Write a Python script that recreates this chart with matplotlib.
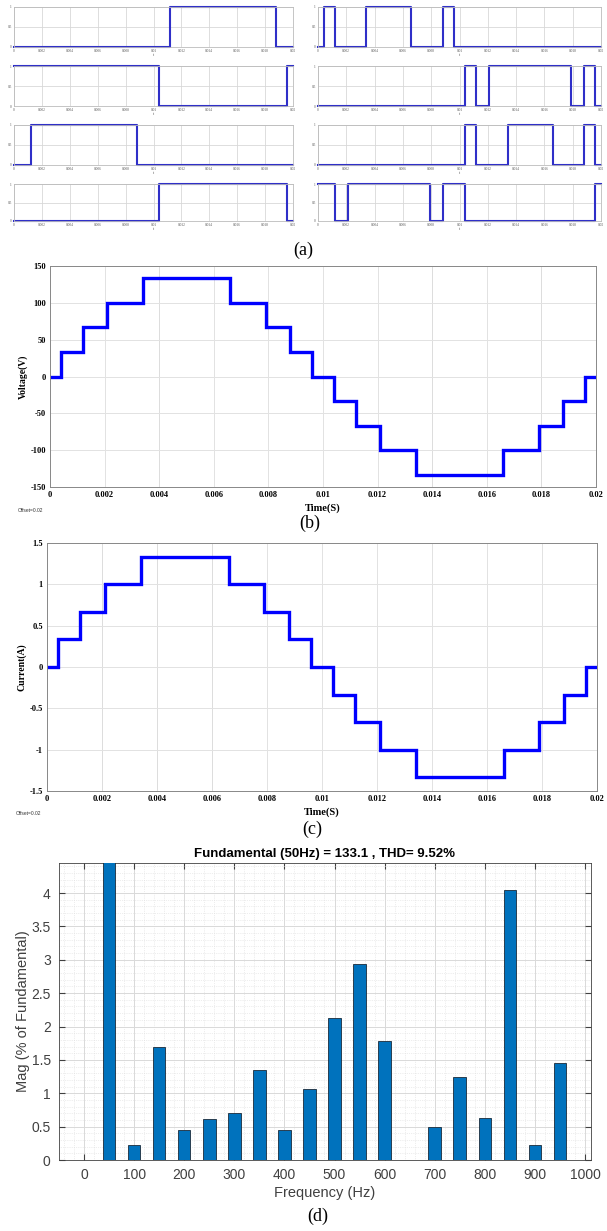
import numpy as np
import matplotlib.pyplot as plt

# %% DATA
# gate signals (a): switching instants and the level that holds after each one
s1_t = [0, 0.0112, 0.0188, 0.02]
s1_v = [0, 1, 0, 0]
s2_t = [0, 0.0104, 0.0196, 0.02]
s2_v = [1, 0, 1, 1]
s3_t = [0, 0.0012, 0.0088, 0.02]
s3_v = [0, 1, 0, 0]
s4_t = [0, 0.0104, 0.0196, 0.02]
s4_v = [0, 1, 0, 0]
s5_t = [0, 0.0004, 0.0012, 0.0034, 0.0066, 0.0088, 0.0096, 0.02]
s5_v = [0, 1, 0, 1, 0, 1, 0, 0]
s6_t = [0, 0.0104, 0.0112, 0.0121, 0.0179, 0.0188, 0.0196, 0.02]
s6_v = [0, 1, 0, 1, 0, 1, 0, 0]
s7_t = [0, 0.0104, 0.0112, 0.0134, 0.0166, 0.0188, 0.0196, 0.02]
s7_v = [0, 1, 0, 1, 0, 1, 0, 0]
s8_t = [0, 0.0012, 0.0021, 0.0079, 0.0088, 0.0104, 0.0196, 0.02]
s8_v = [1, 0, 1, 0, 1, 0, 1, 1]

# staircase output (b), (c)
step_t = [0, 0.0004, 0.0012, 0.0021, 0.0034, 0.0066, 0.0079, 0.0088, 0.0096,
          0.0104, 0.0112, 0.0121, 0.0134, 0.0166, 0.0179, 0.0188, 0.0196, 0.02]
voltage = [0, 33.3, 66.7, 100, 133.3, 100, 66.7, 33.3, 0,
           -33.3, -66.7, -100, -133.3, -100, -66.7, -33.3, 0, 0]
current = [0, 0.333, 0.667, 1.0, 1.333, 1.0, 0.667, 0.333, 0,
           -0.333, -0.667, -1.0, -1.333, -1.0, -0.667, -0.333, 0, 0]

# FFT spectrum (d)
freq = [0, 50, 100, 150, 200, 250, 300, 350, 400, 450, 500, 550, 600, 650,
        700, 750, 800, 850, 900, 950]
mag = [0, 100, 0.23, 1.69, 0.45, 0.61, 0.71, 1.35, 0.45, 1.06, 2.13, 2.93,
       1.78, 0, 0.49, 1.25, 0.63, 4.04, 0.22, 1.45]

t_ticks = [0, 0.002, 0.004, 0.006, 0.008, 0.01, 0.012, 0.014, 0.016, 0.018, 0.02]
t_labels = ['0', '0.002', '0.004', '0.006', '0.008', '0.01', '0.012', '0.014',
            '0.016', '0.018', '0.02']

W, H = 607, 1231
fig = plt.figure(figsize=(W / 100, H / 100), dpi=100)


def box(x0, y0, x1, y1):
    # pixel box -> figure fraction
    return [x0 / W, 1 - y1 / H, (x1 - x0) / W, (y1 - y0) / H]


serif = 'Liberation Serif'
sans = 'Liberation Sans'

# %% (a) GATE SIGNALS
rows = [(7, 47), (66, 106), (125, 165), (184, 221)]
left_sig = [(s1_t, s1_v), (s2_t, s2_v), (s3_t, s3_v), (s4_t, s4_v)]
right_sig = [(s5_t, s5_v), (s6_t, s6_v), (s7_t, s7_v), (s8_t, s8_v)]
for col, sigs, (x0, x1) in [(0, left_sig, (14, 293)), (1, right_sig, (318, 601))]:
    for (y0, y1), (tt, vv) in zip(rows, sigs):
        ax = fig.add_axes(box(x0, y0, x1, y1))
        ax.step(tt, vv, where='post', color='#2f2fc8', lw=1.5, clip_on=False)
        ax.set_xlim(0, 0.02)
        ax.set_ylim(0, 1)
        ax.set_xticks(t_ticks)
        ax.set_xticklabels(t_labels, fontsize=2.5, family=serif, color='#555555')
        ax.set_yticks([0, 0.5, 1])
        ax.set_yticklabels(['0', '0.5', '1'], fontsize=2.5, family=serif, color='#555555')
        ax.tick_params(length=0, pad=1.5)
        ax.grid(True, color='#d8d8d8', lw=0.6)
        for sp in ax.spines.values():
            sp.set_color('#bbbbbb')
            sp.set_linewidth(0.6)
        ax.set_xlabel('t', fontsize=3, family=serif, color='#555555', labelpad=0)

fig.text(303 / W, 1 - 250 / H, '(a)', ha='center', va='center', fontsize=13, family=serif)


# %% (b), (c) STAIRCASE
def stair_axes(rect, y, yticks, ylabels, ylabel, dark):
    ax = fig.add_axes(rect)
    ax.step(step_t, y, where='post', color='#0000ff', lw=2.4, solid_joinstyle='miter')
    ax.set_xlim(0, 0.02)
    ax.set_ylim(yticks[0], yticks[-1])
    ax.set_xticks(t_ticks)
    ax.set_xticklabels(t_labels, fontsize=6, family=serif, fontweight='bold')
    ax.set_yticks(yticks)
    ax.set_yticklabels(ylabels, fontsize=6, family=serif, fontweight='bold')
    ax.tick_params(length=0, pad=3)
    ax.grid(True, color='#e2e2e2', lw=0.7)
    for xd in dark:
        ax.axvline(xd, color='#555555', lw=0.7, zorder=1)
    for sp in ax.spines.values():
        sp.set_color('#888888')
        sp.set_linewidth(0.7)
    ax.set_ylabel(ylabel, fontsize=7, family=serif, fontweight='bold', labelpad=2)
    ax.set_xlabel('Time(S)', fontsize=7.5, family=serif, fontweight='bold', labelpad=3)
    return ax


ax_b = stair_axes(box(50, 266, 596, 487), voltage, [-150, -100, -50, 0, 50, 100, 150],
                  ['-150', '-100', '-50', '0', '50', '100', '150'], 'Voltage(V)',
                  [0.004, 0.014, 0.018])
fig.text(18 / W, 1 - 512 / H, 'Offset=0.02', fontsize=3.5, family=sans, color='#333333')
fig.text(310 / W, 1 - 523 / H, '(b)', ha='center', va='center', fontsize=13, family=serif)

ax_c = stair_axes(box(47, 543, 597, 791), current, [-1.5, -1, -0.5, 0, 0.5, 1, 1.5],
                  ['-1.5', '-1', '-0.5', '0', '0.5', '1', '1.5'], 'Current(A)',
                  [0.002, 0.004, 0.006])
fig.text(16 / W, 1 - 815 / H, 'Offset=0.02', fontsize=3.5, family=sans, color='#333333')
fig.text(312 / W, 1 - 829 / H, '(c)', ha='center', va='center', fontsize=13, family=serif)

# %% (d) FFT
ax = fig.add_axes(box(59, 863, 591, 1160))
ax.bar(freq, mag, width=25, color='#0072bd', edgecolor='#1a2a3a', lw=0.6, zorder=3)
ax.set_xlim(-50, 1012)
ax.set_ylim(0, 4.45)
ax.set_xticks(np.arange(0, 1001, 100))
ax.set_yticks(np.arange(0, 4.01, 0.5))
ax.set_yticklabels(['0', '0.5', '1', '1.5', '2', '2.5', '3', '3.5', '4'])
ax.set_xticks(np.arange(-40, 1012, 20), minor=True)
ax.set_yticks(np.arange(0, 4.45, 0.1), minor=True)
ax.tick_params(which='both', direction='in', top=True, right=True, labelsize=10,
               colors='#404040', length=4, pad=6)
ax.tick_params(which='minor', length=0)
ax.grid(True, which='major', color='#d9d9d9', lw=0.7, zorder=0)
ax.grid(True, which='minor', color='#dddddd', lw=0.5, ls=':', zorder=0)
for sp in ax.spines.values():
    sp.set_color('#404040')
    sp.set_linewidth(0.6)
for lab in ax.get_xticklabels() + ax.get_yticklabels():
    lab.set_family(sans)
ax.set_xlabel('Frequency (Hz)', fontsize=10.5, family=sans, color='#404040', labelpad=3)
ax.set_ylabel('Mag (% of Fundamental)', fontsize=10.5, family=sans, color='#404040',
              labelpad=1)
ax.set_title('Fundamental (50Hz) = 133.1 , THD= 9.52%', fontsize=9.5, family=sans,
             fontweight='bold', pad=4)
fig.text(318 / W, 1 - 1216 / H, '(d)', ha='center', va='center', fontsize=13, family=serif)

plt.savefig('out.png', dpi=100)
